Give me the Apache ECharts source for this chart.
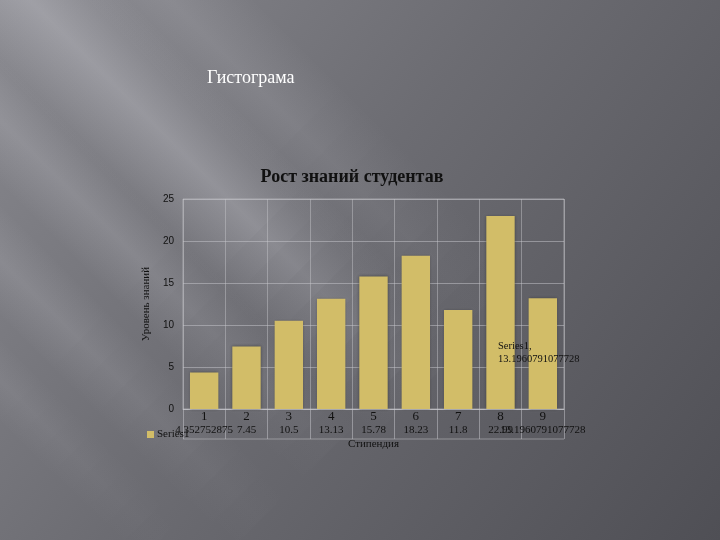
<!DOCTYPE html>
<html><head><meta charset="utf-8">
<script src="https://cdn.jsdelivr.net/npm/echarts@6/dist/echarts.min.js"></script>
<style>html,body{margin:0;padding:0;}#c{width:720px;height:540px;}</style>
</head><body><div id="c"></div>
<script>
var categories = ['1','2','3','4','5','6','7','8','9'];
var values = [4.352752875, 7.45, 10.5, 13.13, 15.78, 18.23, 11.8, 22.99, 13.1960791077728];
var seriesName = 'Series1';
var yTicks = [0, 5, 10, 15, 20, 25];

var chart = echarts.init(document.getElementById('c'), null, {renderer: 'canvas'});
var serif = '"Liberation Serif", "DejaVu Serif", serif';
var bg = {
  type: 'linear', x: 0, y: 0, x2: 1, y2: 1,
  colorStops: [
    {offset: 0, color: '#88888e'},
    {offset: 0.45, color: '#6c6c72'},
    {offset: 1, color: '#4f4f55'}
  ]
};
function band(k, w, a, xa, xb) {
  var s = Math.SQRT1_2;
  var px = w * s, py = -w * s;
  var c0 = [xa, xa + k], c1 = [xb, xb + k];
  return {
    type: 'polygon', silent: true, z: -10,
    shape: {points: [[c0[0] - px, c0[1] - py], [c0[0] + px, c0[1] + py],
                     [c1[0] + px, c1[1] + py], [c1[0] - px, c1[1] - py]]},
    style: {fill: {
      type: 'linear', global: true,
      x: c0[0] - px, y: c0[1] - py, x2: c0[0] + px, y2: c0[1] + py,
      colorStops: [
        {offset: 0, color: 'rgba(225,225,232,0)'},
        {offset: 0.5, color: 'rgba(225,225,232,' + a + ')'},
        {offset: 1, color: 'rgba(225,225,232,0)'}
      ]
    }}
  };
}
function streak(k, w, a, x0, xf, x1) {
  var out = [band(k, w, a, x0, xf)];
  var n = 8, step = (x1 - xf) / n;
  for (var i = 0; i < n; i++) {
    out.push(band(k, w, a * (1 - (i + 1) / (n + 1)), xf + i * step, xf + (i + 1) * step));
  }
  return out;
}
var graphics = [].concat(
  streak(-30, 70, 0.28, -100, 260, 420),
  streak(120, 45, 0.16, -100, 150, 330),
  streak(260, 40, 0.13, -100, 80, 260),
  streak(-170, 60, 0.12, 0, 300, 480),
  streak(380, 30, 0.08, -100, 20, 160)
);
graphics.push({
  type: 'text', z: 20,
  left: 498, top: 340,
  style: {
    text: seriesName + ',\n' + values[8],
    fontFamily: serif, fontSize: 10.5, fill: '#111', align: 'center', lineHeight: 13
  }
});
graphics.push({
  type: 'line', z: 5, silent: true,
  shape: {x1: 183, y1: 439, x2: 564, y2: 439},
  style: {stroke: 'rgba(200,200,205,0.5)', lineWidth: 1}
});
chart.setOption({
  backgroundColor: bg,
  title: [{
    text: 'Рост знаний студентав',
    left: 347, top: 163, textAlign: 'center',
    textStyle: {fontFamily: serif, fontSize: 18, fontWeight: 'bold', color: '#111'}
  }, {
    text: 'Гистограма',
    left: 202, top: 64,
    textStyle: {fontFamily: serif, fontSize: 18, fontWeight: 'normal', color: '#ffffff'}
  }],
  graphic: graphics,
  legend: {
    left: 142, top: 424,
    itemWidth: 7, itemHeight: 7, itemGap: 4,
    icon: 'rect',
    textStyle: {fontFamily: serif, fontSize: 11, color: '#111', padding: [0,0,0,-2]},
    data: [seriesName]
  },
  grid: {left: 183, right: 156, top: 199, bottom: 131, show: true,
         borderColor: 'rgba(200,200,205,0.55)', borderWidth: 1},
  xAxis: {
    type: 'category', data: categories,
    name: 'Стипендия', nameLocation: 'middle', nameGap: 30,
    nameTextStyle: {fontFamily: serif, fontSize: 11, color: '#111'},
    axisLine: {lineStyle: {color: 'rgba(200,200,205,0.6)'}},
    axisTick: {show: true, length: 30, alignWithLabel: false, lineStyle: {color: 'rgba(200,200,205,0.5)'}},
    axisLabel: {fontFamily: serif, fontSize: 13, color: '#111', margin: 1},
    splitLine: {show: true, lineStyle: {color: 'rgba(200,200,205,0.45)'}}
  },
  yAxis: {
    type: 'value', min: 0, max: 25, interval: 5,
    name: 'Уровень знаний', nameLocation: 'middle', nameGap: 30, nameRotate: 90,
    nameTextStyle: {fontFamily: serif, fontSize: 11, color: '#111'},
    axisLine: {show: false}, axisTick: {show: false},
    axisLabel: {fontFamily: '"Liberation Sans", Arial, sans-serif', fontSize: 10, color: '#111', margin: 9,
      formatter: function (v) { return yTicks.indexOf(v) >= 0 ? String(v) : ''; }},
    splitLine: {show: true, lineStyle: {color: 'rgba(200,200,205,0.5)'}}
  },
  series: [{
    name: seriesName, type: 'bar', data: values,
    barCategoryGap: '33%',
    itemStyle: {color: '#d2bd68', shadowColor: 'rgba(40,40,40,0.5)', shadowBlur: 3},
    label: {
      show: true, position: 'bottom', distance: 16,
      fontFamily: serif, fontSize: 11, color: '#111',
      formatter: function (p) { return String(p.value); }
    }
  }]
});
</script></body></html>
